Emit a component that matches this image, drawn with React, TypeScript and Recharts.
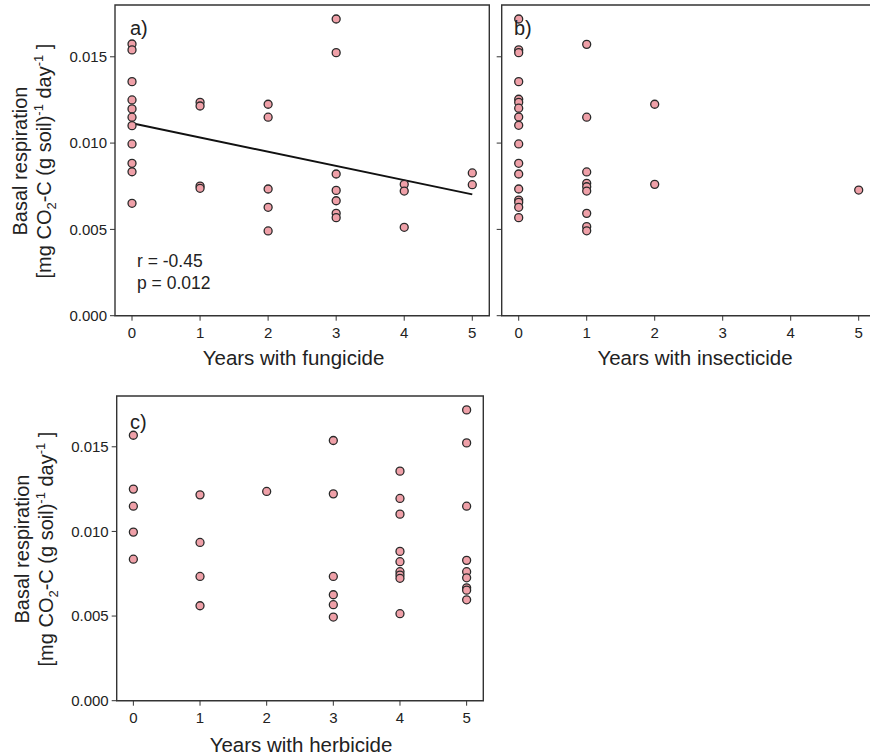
import React from 'react';
import {
  ScatterChart,
  Scatter,
  XAxis,
  YAxis,
  ReferenceArea,
} from 'recharts';

// years of use vs basal respiration
const fungicidePoints = [
  { years: 0, resp: 0.01574 }, { years: 0, resp: 0.0154 }, { years: 0, resp: 0.01356 },
  { years: 0, resp: 0.0125 }, { years: 0, resp: 0.01198 }, { years: 0, resp: 0.0115 },
  { years: 0, resp: 0.01101 }, { years: 0, resp: 0.00995 }, { years: 0, resp: 0.00883 },
  { years: 0, resp: 0.00834 }, { years: 0, resp: 0.00651 },
  { years: 1, resp: 0.01236 }, { years: 1, resp: 0.01215 }, { years: 1, resp: 0.00751 },
  { years: 1, resp: 0.00738 },
  { years: 2, resp: 0.01225 }, { years: 2, resp: 0.0115 }, { years: 2, resp: 0.00734 },
  { years: 2, resp: 0.00628 }, { years: 2, resp: 0.00491 },
  { years: 3, resp: 0.01719 }, { years: 3, resp: 0.01524 }, { years: 3, resp: 0.00821 },
  { years: 3, resp: 0.00726 }, { years: 3, resp: 0.00666 }, { years: 3, resp: 0.00593 },
  { years: 3, resp: 0.00568 },
  { years: 4, resp: 0.00761 }, { years: 4, resp: 0.00722 }, { years: 4, resp: 0.00512 },
  { years: 5, resp: 0.00827 }, { years: 5, resp: 0.00759 },
];

const fungicideFit = [
  { years: 0, resp: 0.01115 },
  { years: 5, resp: 0.00703 },
];

const insecticidePoints = [
  { years: 0, resp: 0.01719 }, { years: 0, resp: 0.0154 }, { years: 0, resp: 0.01524 },
  { years: 0, resp: 0.01356 }, { years: 0, resp: 0.01254 }, { years: 0, resp: 0.01236 },
  { years: 0, resp: 0.01202 }, { years: 0, resp: 0.01151 }, { years: 0, resp: 0.01103 },
  { years: 0, resp: 0.00995 }, { years: 0, resp: 0.00883 }, { years: 0, resp: 0.00821 },
  { years: 0, resp: 0.00734 }, { years: 0, resp: 0.0067 }, { years: 0, resp: 0.00657 },
  { years: 0, resp: 0.00628 }, { years: 0, resp: 0.00568 },
  { years: 1, resp: 0.01572 }, { years: 1, resp: 0.0115 }, { years: 1, resp: 0.00833 },
  { years: 1, resp: 0.00767 }, { years: 1, resp: 0.00747 }, { years: 1, resp: 0.00722 },
  { years: 1, resp: 0.00593 }, { years: 1, resp: 0.00516 }, { years: 1, resp: 0.00492 },
  { years: 2, resp: 0.01225 }, { years: 2, resp: 0.00761 },
  { years: 5, resp: 0.00728 },
];

const herbicidePoints = [
  { years: 0, resp: 0.01568 }, { years: 0, resp: 0.0125 }, { years: 0, resp: 0.01149 },
  { years: 0, resp: 0.00996 }, { years: 0, resp: 0.00836 },
  { years: 1, resp: 0.01216 }, { years: 1, resp: 0.00935 }, { years: 1, resp: 0.00734 },
  { years: 1, resp: 0.00561 },
  { years: 2, resp: 0.01236 },
  { years: 3, resp: 0.01537 }, { years: 3, resp: 0.01222 }, { years: 3, resp: 0.00734 },
  { years: 3, resp: 0.00626 }, { years: 3, resp: 0.00567 }, { years: 3, resp: 0.00494 },
  { years: 4, resp: 0.01356 }, { years: 4, resp: 0.01195 }, { years: 4, resp: 0.01102 },
  { years: 4, resp: 0.00882 }, { years: 4, resp: 0.00821 }, { years: 4, resp: 0.00762 },
  { years: 4, resp: 0.00742 }, { years: 4, resp: 0.00723 }, { years: 4, resp: 0.00514 },
  { years: 5, resp: 0.01718 }, { years: 5, resp: 0.01523 }, { years: 5, resp: 0.01149 },
  { years: 5, resp: 0.00829 }, { years: 5, resp: 0.00762 }, { years: 5, resp: 0.00726 },
  { years: 5, resp: 0.00667 }, { years: 5, resp: 0.00653 }, { years: 5, resp: 0.00596 },
];

const xTicks = [0, 1, 2, 3, 4, 5];
const yTicks = [0, 0.005, 0.01, 0.015];

const FONT = '"Liberation Sans", Arial, sans-serif';
const INK = '#222';
const BORDER = '#333';

const dot = (props: any) => (
  <circle cx={props.cx} cy={props.cy} r={4} fill="#EFA0A8" stroke="#2a2a2a" strokeWidth={1.3} />
);

type PanelProps = {
  points: { years: number; resp: number }[];
  fit?: { years: number; resp: number }[];
  width: number;
  height: number;
  margin: { top: number; right: number; left: number; bottom: number };
  yWidth: number;
  showYLabels: boolean;
};

function Panel({ points, fit, width, height, margin, yWidth, showYLabels }: PanelProps) {
  return (
    <ScatterChart width={width} height={height} margin={margin}>
      <XAxis
        type="number"
        dataKey="years"
        domain={[-0.25, 5.25]}
        ticks={xTicks}
        allowDataOverflow
        axisLine={false}
        tickLine={{ stroke: BORDER }}
        tickSize={5}
        tickMargin={7}
        height={50}
        tick={{ fontSize: 15, fill: INK, fontFamily: FONT }}
      />
      <YAxis
        type="number"
        dataKey="resp"
        domain={[0, 0.018]}
        ticks={yTicks}
        allowDataOverflow
        axisLine={false}
        tickLine={{ stroke: BORDER }}
        tickSize={5}
        tickMargin={3}
        width={yWidth}
        tickFormatter={(v: number) => (showYLabels ? v.toFixed(3) : '')}
        tick={{ fontSize: 15, fill: INK, fontFamily: FONT }}
      />
      <ReferenceArea
        x1={-0.25}
        x2={5.25}
        y1={0}
        y2={0.018}
        fill="none"
        stroke={BORDER}
        strokeWidth={1.4}
        fillOpacity={0}
      />
      {fit && (
        <Scatter
          data={fit}
          line={{ stroke: '#111', strokeWidth: 2 }}
          shape={() => null}
          isAnimationActive={false}
        />
      )}
      <Scatter data={points} shape={dot} isAnimationActive={false} />
    </ScatterChart>
  );
}

function YTitle({ cy, x1, x2 }: { cy: number; x1: number; x2: number }) {
  return (
    <g fontFamily={FONT} fill={INK} fontSize={20}>
      <text x={x1} y={cy} textAnchor="middle" transform={`rotate(-90, ${x1}, ${cy})`}>
        Basal respiration
      </text>
      <text x={x2} y={cy} textAnchor="middle" transform={`rotate(-90, ${x2}, ${cy})`}>
        [mg CO<tspan fontSize={13} dy={5}>2</tspan>
        <tspan dy={-5}>-C (g soil)</tspan>
        <tspan fontSize={13} dy={-8}>-1</tspan>
        <tspan dy={8}> day</tspan>
        <tspan fontSize={13} dy={-8}>-1</tspan>
        <tspan dy={8}> ]</tspan>
      </text>
    </g>
  );
}

export default function App() {
  return (
    <div
      style={{
        position: 'fixed',
        left: 0,
        top: 0,
        width: 870,
        height: 756,
        overflow: 'hidden',
        background: '#fff',
      }}
    >
      <div style={{ position: 'absolute', left: 0, top: 0 }}>
        <Panel
          points={fungicidePoints}
          fit={fungicideFit}
          width={500}
          height={380}
          margin={{ top: 5, right: 10.7, left: 0, bottom: 14.3 }}
          yWidth={115}
          showYLabels
        />
      </div>
      <div style={{ position: 'absolute', left: 400, top: 0 }}>
        <Panel
          points={insecticidePoints}
          width={480}
          height={380}
          margin={{ top: 5, right: 4.3, left: 0, bottom: 14.3 }}
          yWidth={101.7}
          showYLabels={false}
        />
      </div>
      <div style={{ position: 'absolute', left: 0, top: 380 }}>
        <Panel
          points={herbicidePoints}
          width={500}
          height={376}
          margin={{ top: 16, right: 16.7, left: 0, bottom: 5.3 }}
          yWidth={116.7}
          showYLabels
        />
      </div>
      <svg
        width={870}
        height={756}
        style={{ position: 'absolute', left: 0, top: 0, pointerEvents: 'none' }}
      >
        <g fontFamily={FONT} fill={INK}>
          <text x={130} y={35} fontSize={20}>a)</text>
          <text x={514} y={35} fontSize={20}>b)</text>
          <text x={130} y={429} fontSize={20}>c)</text>
          <text x={137} y={267} fontSize={17.5}>r = -0.45</text>
          <text x={137} y={289} fontSize={17.5}>p = 0.012</text>
          <text x={293.5} y={365} fontSize={20.5} textAnchor="middle">Years with fungicide</text>
          <text x={695} y={365} fontSize={20.5} textAnchor="middle">Years with insecticide</text>
          <text x={301} y={752} fontSize={20.5} textAnchor="middle">Years with herbicide</text>
        </g>
        <YTitle cy={161} x1={27} x2={51} />
        <YTitle cy={549} x1={29} x2={53} />
      </svg>
    </div>
  );
}
